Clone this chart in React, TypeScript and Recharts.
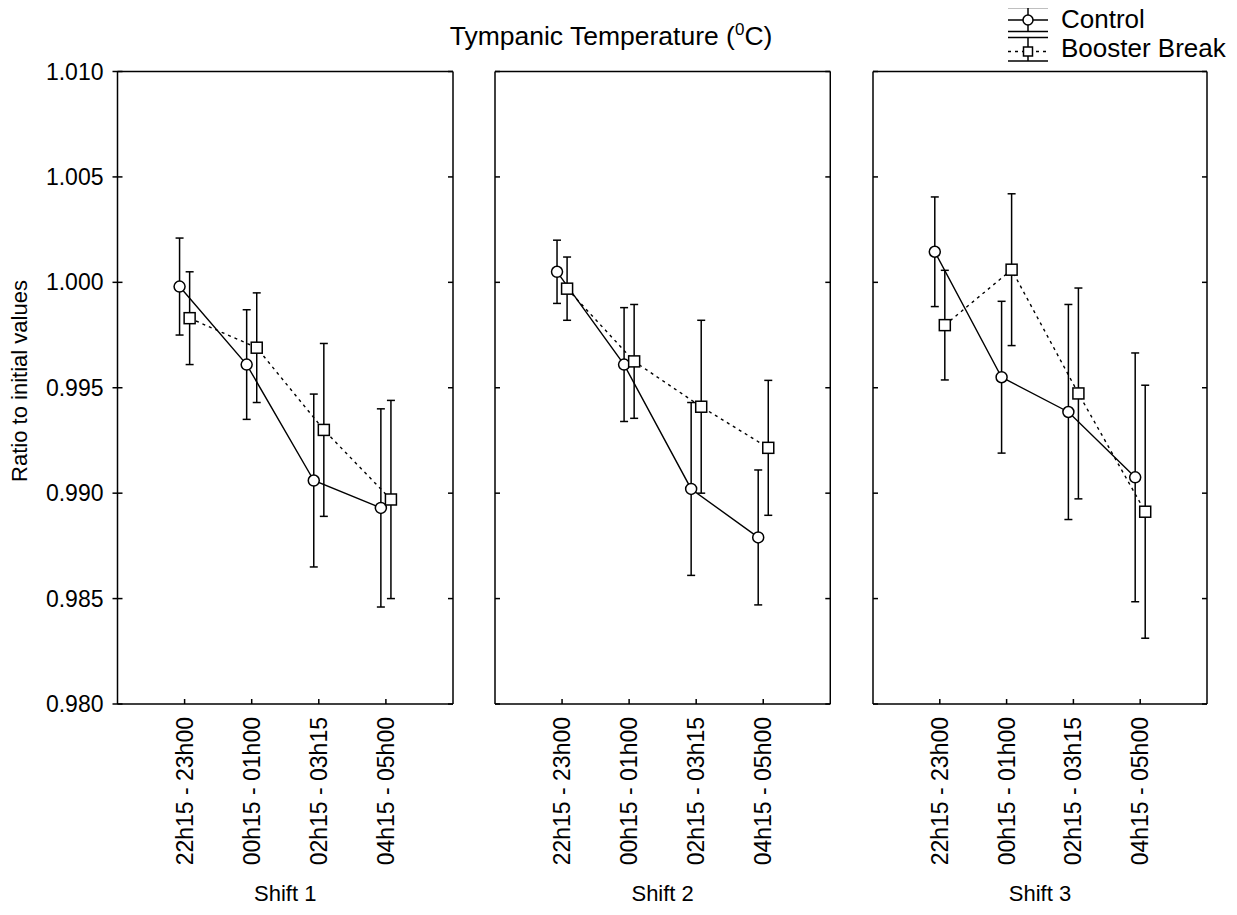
import React from 'react'
import { LineChart, Line, XAxis, YAxis, ErrorBar } from 'recharts'

// categories and axis ticks
const periods = ['22h15 - 23h00', '00h15 - 01h00', '02h15 - 03h15', '04h15 - 05h00']
const shiftNames = ['Shift 1', 'Shift 2', 'Shift 3']
const periodTicks = [1, 2, 3, 4]
const yTicks = [0.98, 0.985, 0.99, 0.995, 1.0, 1.005, 1.01]

// means and error half-widths
const controlShift1 = [0.9998, 0.9961, 0.9906, 0.9893]
const controlErrShift1 = [0.0023, 0.0026, 0.0041, 0.0047]
const boosterShift1 = [0.9983, 0.9969, 0.993, 0.9897]
const boosterErrShift1 = [0.0022, 0.0026, 0.0041, 0.0047]

const controlShift2 = [1.0005, 0.9961, 0.9902, 0.9879]
const controlErrShift2 = [0.0015, 0.0027, 0.0041, 0.0032]
const boosterShift2 = [0.9997, 0.99625, 0.9941, 0.99215]
const boosterErrShift2 = [0.0015, 0.0027, 0.0041, 0.0032]

const controlShift3 = [1.00145, 0.9955, 0.99385, 0.99075]
const controlErrShift3 = [0.0026, 0.0036, 0.0051, 0.0059]
const boosterShift3 = [0.99797, 1.0006, 0.99473, 0.98912]
const boosterErrShift3 = [0.0026, 0.0036, 0.005, 0.006]

const FONT = '"Liberation Sans", Arial, Helvetica, sans-serif'
const DODGE = 0.075
const CHART_H = 899
const PLOT_TOP = 63.5
const PLOT_BOTTOM = 696

const toRows = (values: number[], errs: number[], shift: number) =>
  values.map((v, i) => ({ x: periodTicks[i] + shift, y: v, err: errs[i] }))

const circleDot = (p: any) => (
  <circle key={`c-${p.index}`} cx={p.cx} cy={p.cy} r={5.5} fill="#fff" stroke="#000" strokeWidth={1.5} />
)

const squareDot = (p: any) => (
  <rect key={`s-${p.index}`} x={p.cx - 5.5} y={p.cy - 5.5} width={11} height={11} fill="#fff" stroke="#000" strokeWidth={1.5} />
)

const LeftTick = (props: any) => {
  const { x, y, payload, withLabel } = props
  return (
    <g>
      <line x1={withLabel ? x - 5 : x} x2={x + 5} y1={y} y2={y} stroke="#000" strokeWidth={1.5} />
      {withLabel && (
        <text x={x - 14} y={y} dy="0.35em" textAnchor="end" fontSize={23} fill="#000">
          {Number(payload.value).toFixed(3)}
        </text>
      )}
    </g>
  )
}

const RightTick = ({ x, y }: any) => <line x1={x - 5} x2={x} y1={y} y2={y} stroke="#000" strokeWidth={1.5} />

const TopTick = ({ x, y }: any) => <line x1={x} x2={x} y1={y} y2={y + 5} stroke="#000" strokeWidth={1.5} />

const BottomTick = ({ x, y, payload }: any) => {
  const ty = y + 13
  return (
    <g>
      <line x1={x} x2={x} y1={y - 5} y2={y} stroke="#000" strokeWidth={1.5} />
      <text x={x} y={ty} dy="0.35em" textAnchor="end" fontSize={23} fill="#000" transform={`rotate(-90 ${x} ${ty})`}>
        {periods[payload.value - 1]}
      </text>
    </g>
  )
}

interface PanelProps {
  left: number
  width: number
  yAxisWidth: number
  withLabels: boolean
  title: string
  control: number[]
  controlErr: number[]
  booster: number[]
  boosterErr: number[]
}

function Panel({ left, width, yAxisWidth, withLabels, title, control, controlErr, booster, boosterErr }: PanelProps) {
  const axisLine = { stroke: '#000', strokeWidth: 1.5 }
  return (
    <div style={{ position: 'absolute', left, top: 0 }}>
      <LineChart width={width} height={CHART_H} margin={{ top: PLOT_TOP - 1, right: 0, bottom: 0, left: 0 }}>
        <XAxis
          type="number"
          dataKey="x"
          domain={[0, 5]}
          ticks={periodTicks}
          height={CHART_H - PLOT_BOTTOM}
          axisLine={axisLine}
          tickLine={false}
          tickSize={0}
          tickMargin={0}
          interval={0}
          tick={(p: any) => <BottomTick {...p} />}
          label={{ value: title, position: 'insideBottom', offset: 6, fontSize: 22, fill: '#000' }}
        />
        <XAxis
          xAxisId="top"
          orientation="top"
          type="number"
          domain={[0, 5]}
          ticks={periodTicks}
          height={1}
          axisLine={axisLine}
          tickLine={false}
          tickSize={0}
          tickMargin={0}
          interval={0}
          tick={(p: any) => <TopTick {...p} />}
        />
        <YAxis
          type="number"
          domain={[0.98, 1.01]}
          ticks={yTicks}
          width={yAxisWidth}
          axisLine={axisLine}
          tickLine={false}
          tickSize={0}
          tickMargin={0}
          interval={0}
          allowDataOverflow
          tick={(p: any) => <LeftTick {...p} withLabel={withLabels} />}
        />
        <YAxis
          yAxisId="right"
          orientation="right"
          type="number"
          domain={[0.98, 1.01]}
          ticks={yTicks}
          width={1}
          axisLine={axisLine}
          tickLine={false}
          tickSize={0}
          tickMargin={0}
          interval={0}
          allowDataOverflow
          tick={(p: any) => <RightTick {...p} />}
        />
        <Line
          data={toRows(control, controlErr, -DODGE)}
          dataKey="y"
          type="linear"
          stroke="#000"
          strokeWidth={1.4}
          dot={circleDot}
          activeDot={false}
          isAnimationActive={false}
        >
          <ErrorBar dataKey="err" direction="y" width={4} stroke="#000" strokeWidth={1.5} isAnimationActive={false} />
        </Line>
        <Line
          data={toRows(booster, boosterErr, DODGE)}
          dataKey="y"
          type="linear"
          stroke="#000"
          strokeWidth={1.4}
          strokeDasharray="3 4"
          dot={squareDot}
          activeDot={false}
          isAnimationActive={false}
        >
          <ErrorBar dataKey="err" direction="y" width={4} stroke="#000" strokeWidth={1.5} isAnimationActive={false} />
        </Line>
      </LineChart>
    </div>
  )
}

function Overlay() {
  const k = { stroke: '#000', strokeWidth: 1.5 }
  return (
    <svg
      width={1237}
      height={907}
      style={{ position: 'absolute', left: -8, top: -8, pointerEvents: 'none' }}
    >
      <text x={611} y={45} textAnchor="middle" fontSize={26.5} fill="#000">
        Tympanic Temperature (<tspan fontSize={17} dy={-10}>0</tspan>
        <tspan dy={10}>C)</tspan>
      </text>
      <text x={27} y={381} textAnchor="middle" fontSize={22} fill="#000" transform="rotate(-90 27 381)">
        Ratio to initial values
      </text>

      {/* legend */}
      <line x1={1008} x2={1048} y1={7.5} y2={7.5} {...k} />
      <line x1={1028} x2={1028} y1={7.5} y2={31.5} {...k} />
      <line x1={1008} x2={1048} y1={20} y2={20} {...k} />
      <circle cx={1028} cy={20} r={5} fill="#fff" {...k} />
      <line x1={1008} x2={1048} y1={31.5} y2={31.5} {...k} />
      <text x={1061} y={27.5} fontSize={26} fill="#000">Control</text>

      <line x1={1008} x2={1048} y1={37.5} y2={37.5} {...k} />
      <line x1={1028} x2={1028} y1={37.5} y2={61} {...k} />
      <line x1={1008} x2={1048} y1={51.5} y2={51.5} stroke="#000" strokeWidth={1.4} strokeDasharray="3 4" />
      <rect x={1023.5} y={47} width={9} height={9} fill="#fff" {...k} />
      <line x1={1008} x2={1048} y1={61} y2={61} {...k} />
      <text x={1061} y={57} fontSize={26} fill="#000">Booster Break</text>
    </svg>
  )
}

export default function App() {
  return (
    <div style={{ position: 'relative', width: 1221, height: 899, fontFamily: FONT, background: '#fff' }}>
      <Panel
        left={0}
        width={446}
        yAxisWidth={109.5}
        withLabels
        title={shiftNames[0]}
        control={controlShift1}
        controlErr={controlErrShift1}
        booster={boosterShift1}
        boosterErr={boosterErrShift1}
      />
      <Panel
        left={485.7}
        width={337.3}
        yAxisWidth={1}
        withLabels={false}
        title={shiftNames[1]}
        control={controlShift2}
        controlErr={controlErrShift2}
        booster={boosterShift2}
        boosterErr={boosterErrShift2}
      />
      <Panel
        left={863.7}
        width={336}
        yAxisWidth={1}
        withLabels={false}
        title={shiftNames[2]}
        control={controlShift3}
        controlErr={controlErrShift3}
        booster={boosterShift3}
        boosterErr={boosterErrShift3}
      />
      <Overlay />
    </div>
  )
}
